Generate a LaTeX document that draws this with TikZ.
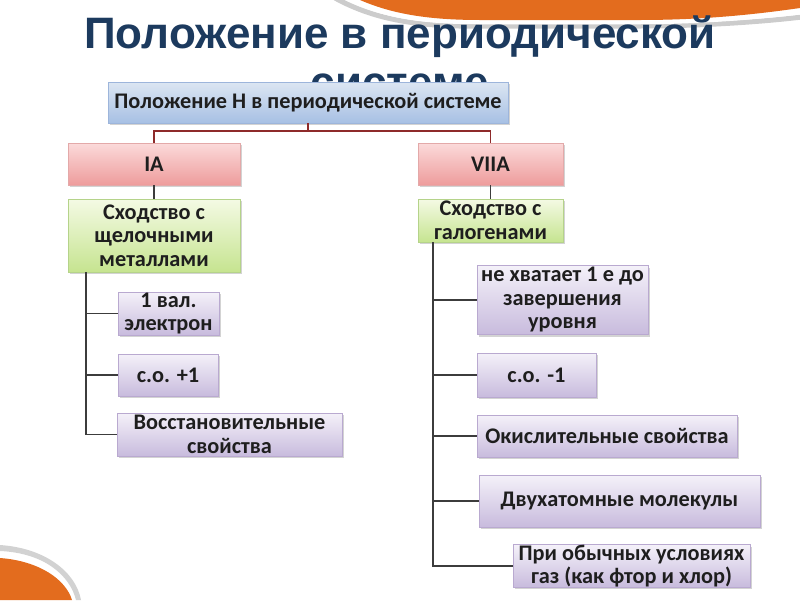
\documentclass[tikz,border=0pt]{standalone}
\usepackage{fontspec}
\setmainfont{Carlito}
\newfontfamily\titlefont{Liberation Sans}
\usetikzlibrary{shadows}
\definecolor{titleblue}{HTML}{1C3A5E}
\definecolor{orng}{HTML}{E36C1E}
\definecolor{txt}{HTML}{1E1E1E}
\definecolor{redline}{HTML}{8E2A2A}
\definecolor{treeline}{HTML}{3C3C3C}
\definecolor{bluetop}{HTML}{DCE6F2}\definecolor{bluebot}{HTML}{A7C0E4}\definecolor{blueedge}{HTML}{9DB5DB}
\definecolor{pinktop}{HTML}{FBDADA}\definecolor{pinkbot}{HTML}{EE9C9C}\definecolor{pinkedge}{HTML}{E3A9A9}
\definecolor{greentop}{HTML}{F4FAE4}\definecolor{greenbot}{HTML}{C6E490}\definecolor{greenedge}{HTML}{B5D38A}
\definecolor{lavtop}{HTML}{F4F1F9}\definecolor{lavbot}{HTML}{C8BBDD}\definecolor{lavedge}{HTML}{B9A9D0}
\tikzset{
  base/.style={rectangle, inner sep=0pt, align=center, text=txt,
    font=\bfseries\fontsize{22.3}{23.5}\selectfont, line width=0.6pt,
    drop shadow={opacity=0.35, shadow xshift=2.2pt, shadow yshift=-2.2pt}},
  bluebox/.style={base, draw=blueedge, top color=bluetop, bottom color=bluebot},
  pinkbox/.style={base, draw=pinkedge, top color=pinktop, bottom color=pinkbot},
  greenbox/.style={base, draw=greenedge, top color=greentop, bottom color=greenbot},
  lavbox/.style={base, draw=lavedge, top color=lavtop, bottom color=lavbot},
  redconn/.style={draw=redline, line width=1.1pt},
  treeconn/.style={draw=treeline, line width=1.1pt},
  titletext/.style={anchor=base, text=titleblue, inner sep=0pt,
    font=\titlefont\bfseries\fontsize{44}{50}\selectfont},
}
\begin{document}
\begin{tikzpicture}[x=1pt,y=-1pt]
\useasboundingbox (0,0) rectangle (800,600);
% decorations: top right swoosh
\draw[gray!40, line width=5pt] (335,-2) .. controls (375,20) and (420,27) .. (480,26) -- (640,26) .. controls (700,26) and (760,22) .. (802,17);
\draw[white, line width=2.5pt] (345,-2) .. controls (382,17) and (422,23) .. (480,23) -- (640,23) .. controls (700,23) and (760,18) .. (802,13);
\fill[orng] (360,0) .. controls (390,13) and (425,20) .. (480,20) -- (640,20) .. controls (710,20) and (765,13) .. (800,8) -- (800,0) -- cycle;
% bottom left
\fill[gray!35] (0,545) .. controls (45,548) and (76,572) .. (81,600) -- (76,600) .. controls (70,576) and (45,553) .. (0,551) -- cycle;
\fill[orng] (0,558) .. controls (40,561) and (66,580) .. (72,600) -- (0,600) -- cycle;
% title
\node[titletext] (title1) at (400,48) {Положение в периодической};
\node[titletext] (title2) at (400,97) {системе};
% boxes
\node[bluebox, minimum width=400pt, minimum height=41pt] (top) at (308,102.5) {Положение Н в периодической системе};
\node[pinkbox, minimum width=172pt, minimum height=42pt] (ia) at (154,164) {IA};
\node[pinkbox, minimum width=145pt, minimum height=42pt] (viia) at (490.5,164) {VIIA};
\node[greenbox, minimum width=172pt, minimum height=73pt] (g1) at (154,235.5) {Сходство с\\щелочными\\металлами};
\node[greenbox, minimum width=145pt, minimum height=43pt] (g2) at (490.5,220.5) {Сходство с\\галогенами};
\node[lavbox, minimum width=101pt, minimum height=43pt] (l1) at (168.5,313.5) {1 вал.\\электрон};
\node[lavbox, minimum width=100pt, minimum height=42pt] (l2) at (168,375) {с.о. +1};
\node[lavbox, minimum width=225pt, minimum height=43pt] (l3) at (229.5,434.5) {Восстановительные\\свойства};
\node[lavbox, minimum width=171pt, minimum height=69pt] (r1) at (562.5,300) {не хватает 1 е до\\завершения\\уровня};
\node[lavbox, minimum width=119pt, minimum height=44pt] (r2) at (536.5,375) {с.о. -1};
\node[lavbox, minimum width=260pt, minimum height=42pt] (r3) at (607,436) {Окислительные свойства};
\node[lavbox, minimum width=281pt, minimum height=52pt] (r4) at (619.5,501) {Двухатомные молекулы};
\node[lavbox, minimum width=237pt, minimum height=42pt] (r5) at (631.5,566) {При обычных условиях\\газ (как фтор и хлор)};
% connectors
\coordinate (tj) at (308,131);
\draw[redconn] (top.south) -- (tj);
\draw[redconn] (tj) -| (ia.north);
\draw[redconn] (tj) -| (viia.north);
\draw[treeconn] (ia.south) -- (g1.north);
\draw[treeconn] (viia.south) -- (g2.north);
\coordinate (lv) at (86,272);
\draw[treeconn] (lv) |- (l3.west);
\draw[treeconn] (lv |- l1.west) -- (l1.west);
\draw[treeconn] (lv |- l2.west) -- (l2.west);
\coordinate (rv) at (433,242);
\draw[treeconn] (rv) |- (r5.west);
\draw[treeconn] (rv |- r1.west) -- (r1.west);
\draw[treeconn] (rv |- r2.west) -- (r2.west);
\draw[treeconn] (rv |- r3.west) -- (r3.west);
\draw[treeconn] (rv |- r4.west) -- (r4.west);
\end{tikzpicture}
\end{document}
